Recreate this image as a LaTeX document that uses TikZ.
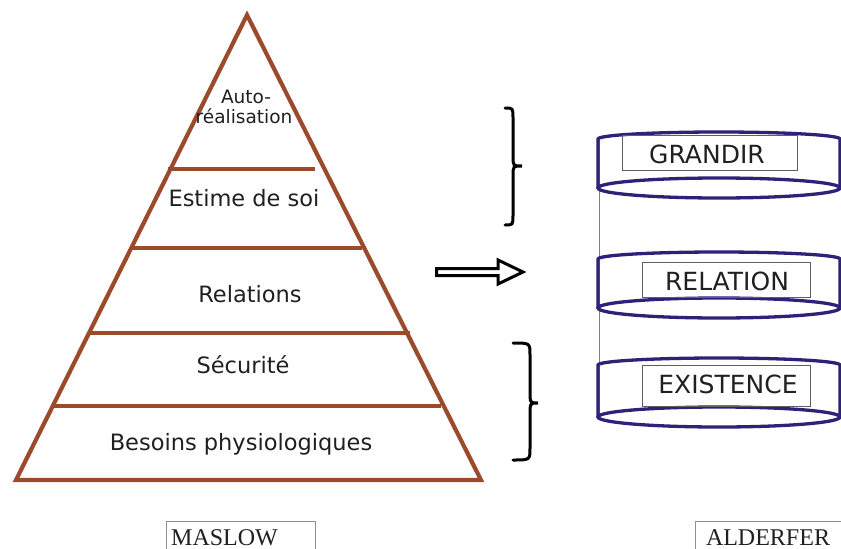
\documentclass[tikz,border=0pt]{standalone}
\usepackage{fontspec}
\setmainfont{DejaVu Sans}
\newfontfamily\capfont{Liberation Serif}
\definecolor{pyrbrown}{RGB}{155,74,44}
\definecolor{cylblue}{RGB}{45,33,120}
\definecolor{txtgray}{RGB}{32,32,32}
\definecolor{boxgray}{RGB}{95,95,95}
\begin{document}
\begin{tikzpicture}[x=1pt,y=-1pt,
  pyr/.style={draw=pyrbrown, line width=4.2pt, line join=miter},
  tier/.style={draw=pyrbrown, line width=3.4pt},
  lvl/.style={font=\fontsize{22.5}{26}\selectfont, text=txtgray, anchor=base, inner sep=0pt},
  lvlsmall/.style={font=\fontsize{18.5}{20}\selectfont, text=txtgray, anchor=base, inner sep=0pt},
  cyl/.style={draw=cylblue, line width=3.3pt},
  tagbox/.style={draw=boxgray, line width=1pt, inner sep=0pt},
  tagtext/.style={font=\fontsize{25}{28}\selectfont, text=txtgray, anchor=base, inner sep=0pt},
  capbox/.style={draw=boxgray!70, line width=1pt, inner sep=0pt, anchor=north west},
  captext/.style={font=\capfont\fontsize{24}{28}\selectfont, text=txtgray, anchor=base, inner sep=0pt},
  bracestroke/.style={draw=black, line width=3pt, line cap=round},
]
\useasboundingbox (0,0) rectangle (841,549);

% ---- Maslow pyramid ----
\coordinate (apex) at (247,15);
\coordinate (bl) at (16,480);
\coordinate (br) at (481,480);
\draw[pyr] (bl) -- (apex) -- (br) -- cycle;
\draw[tier] (168,169) -- (315,169);
\draw[tier] (131,248) -- (362,248);
\draw[tier] (90,333) -- (410,333);
\draw[tier] (52,406) -- (441,406);

\node[lvlsmall] (auto) at (246,103) {Auto-};
\node[lvlsmall] (realisation) at (244,123) {réalisation};
\node[lvl] (estime) at (244,206) {Estime de soi};
\node[lvl] (relations) at (250,302) {Relations};
\node[lvl] (securite) at (243,373) {Sécurité};
\node[lvl] (besoins) at (241,450) {Besoins physiologiques};

% ---- braces ----
\draw[bracestroke] (505,108) .. controls (513,108) .. (513,118) -- (513,156)
  .. controls (513,166) .. (522,166) .. controls (513,166) .. (513,176)
  -- (513,215) .. controls (513,225) .. (505,225);
\draw[bracestroke] (513,343) .. controls (530,343) .. (530,355) -- (530,391)
  .. controls (530,403) .. (538,403) .. controls (530,403) .. (530,415)
  -- (530,448) .. controls (530,460) .. (513,460);

% ---- hollow arrow ----
\draw[line width=3pt, line join=miter] (436.5,268.5) -- (498,268.5) -- (498,260)
  -- (523,272) -- (498,284) -- (498,275.5) -- (436.5,275.5) -- cycle;

% ---- Alderfer stack ----
\coordinate (stacktop) at (599,139);
\coordinate (stackbot) at (599,417);
\draw[gray, line width=1pt] (stacktop) -- (stackbot);
\foreach \t/\b in {139/188, 259/308, 365/417} {
  \draw[cyl] (598,\b) -- (598,\t) arc[start angle=180, end angle=360, x radius=121, y radius=7] -- (840,\b);
  \draw[cyl] (719,\b) ellipse [x radius=121, y radius=10];
}

\node[tagbox, minimum width=175pt, minimum height=35pt] (grandirbox) at (709.5,152.5) {};
\node[tagtext] (grandir) at (707,163) {GRANDIR};
\node[tagbox, minimum width=168pt, minimum height=35pt] (relationbox) at (726,279.5) {};
\node[tagtext] (relation) at (727,290) {RELATION};
\node[tagbox, minimum width=168pt, minimum height=41pt] (existencebox) at (726,385.5) {};
\node[tagtext] (existence) at (728,393) {EXISTENCE};

% ---- captions ----
\node[capbox, minimum width=149pt, minimum height=40pt] (maslowbox) at (166,521) {};
\node[captext] (maslow) at (224.5,545) {MASLOW};
\node[capbox, minimum width=160pt, minimum height=40pt] (alderferbox) at (695,521) {};
\node[captext] (alderfer) at (768,545) {ALDERFER};
\end{tikzpicture}
\end{document}
